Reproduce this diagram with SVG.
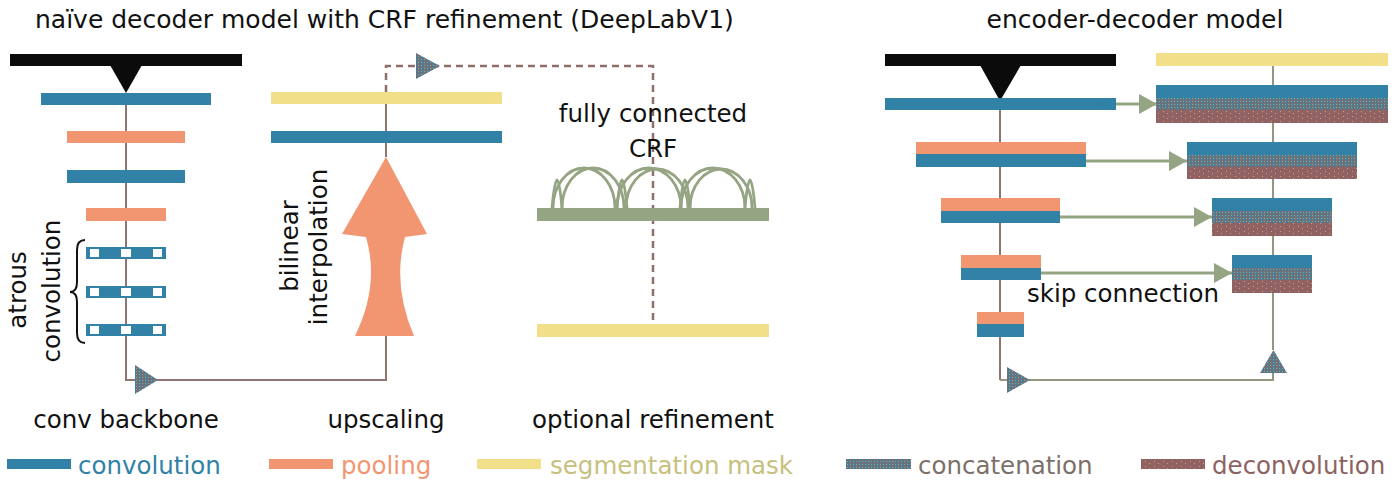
<svg xmlns="http://www.w3.org/2000/svg" width="1400" height="487" viewBox="0 0 1400 487">
<defs>
<pattern id="concat" width="3" height="3" patternUnits="userSpaceOnUse">
<rect width="3" height="3" fill="#5f7a86"/>
<rect x="0" y="0" width="1" height="1" fill="#3182a6"/>
<rect x="2" y="1" width="1" height="1" fill="#8f6363"/>
<rect x="1" y="2" width="1" height="1" fill="#95a584"/>
<rect x="1" y="0" width="1" height="1" fill="#8f6363"/>
<rect x="0" y="2" width="1" height="1" fill="#3182a6"/>
</pattern>
<pattern id="deconv" width="9" height="5" patternUnits="userSpaceOnUse">
<rect width="9" height="5" fill="#8f6363"/>
<rect x="2" y="1" width="1" height="1" fill="#e8906e"/>
<rect x="6" y="3" width="1" height="1" fill="#e8906e"/>
</pattern>
<marker id="skiphead" viewBox="0 0 18 20" refX="18" refY="10" markerWidth="18" markerHeight="20" markerUnits="userSpaceOnUse" orient="auto">
<path d="M0,0 L18,10 L0,20 Z" fill="#95a584"/>
</marker>
<style>
text{font-family:"DejaVu Sans","Liberation Sans",sans-serif;font-size:24.5px;fill:#111}
.h{font-size:25px}
.conv{fill:#3182a6}
.pool{fill:#f29672}
.seg{fill:#f2df8a}
.crf{fill:#95a584}
.cat{fill:url(#concat)}
.dec{fill:url(#deconv)}
.blk{fill:#0b0b0b}
.spine{fill:none;stroke:#8e7570;stroke-width:2}
.link{fill:none;stroke:#93977f;stroke-width:2}
.dash{fill:none;stroke:#8f7068;stroke-width:2.5;stroke-dasharray:7 5}
.skip{fill:none;stroke:#95a584;stroke-width:3;marker-end:url(#skiphead)}
.arc{fill:none;stroke:#95a584;stroke-width:2.8}
.mid{text-anchor:middle}
</style>
</defs>
<rect width="1400" height="487" fill="#fff"/>

<!-- headings -->
<text x="35" y="28" class="h">naïve decoder model with CRF refinement (DeepLabV1)</text>
<text x="1135" y="28" class="h mid">encoder-decoder model</text>

<!-- connectors -->
<g id="connectors">
<path class="spine" d="M126,93 V380 H386 V336"/>
<path class="spine" d="M386,157 V92"/>
<path class="dash" d="M386,92 V66 H653 V323"/>
<path class="spine" d="M1000,101 V380"/>
<path class="link" d="M1000,380 H1273 V373"/>
<path class="link" d="M1273,350 V66"/>
<path class="skip" d="M1116,104 H1157"/>
<path class="skip" d="M1086,161 H1187"/>
<path class="skip" d="M1060,217 H1212"/>
<path class="skip" d="M1041,273 H1232"/>
<polygon class="cat" points="135,365 135,394 158,380"/>
<polygon class="cat" points="416,53 416,79 440,66"/>
<polygon class="cat" points="1007,367 1007,393 1030,380"/>
<polygon class="cat" points="1260,373 1287,373 1273.5,350"/>
</g>

<!-- left: conv backbone -->
<g id="input-left">
<rect class="blk" x="10" y="54" width="232" height="12"/>
<polygon class="blk" points="110,65 142,65 126,93"/>
</g>
<g id="bb-conv1"><rect class="conv" x="41" y="93" width="170" height="12"/></g>
<g id="bb-pool1"><rect class="pool" x="67" y="131" width="118" height="12"/></g>
<g id="bb-conv2"><rect class="conv" x="67" y="170" width="118" height="13"/></g>
<g id="bb-pool2"><rect class="pool" x="86" y="208" width="80" height="13"/></g>
<g id="bb-atrous1">
<rect class="conv" x="86" y="247" width="80" height="12"/>
<rect x="90" y="249" width="9" height="8" fill="#fff"/><rect x="121" y="249" width="10" height="8" fill="#fff"/><rect x="153" y="249" width="9" height="8" fill="#fff"/>
</g>
<g id="bb-atrous2">
<rect class="conv" x="86" y="286" width="80" height="12"/>
<rect x="90" y="288" width="9" height="8" fill="#fff"/><rect x="121" y="288" width="10" height="8" fill="#fff"/><rect x="153" y="288" width="9" height="8" fill="#fff"/>
</g>
<g id="bb-atrous3">
<rect class="conv" x="86" y="324" width="80" height="12"/>
<rect x="90" y="326" width="9" height="8" fill="#fff"/><rect x="121" y="326" width="10" height="8" fill="#fff"/><rect x="153" y="326" width="9" height="8" fill="#fff"/>
</g>
<g id="atrous-label">
<path d="M85,240 Q77,240 77,250 V282 Q77,292 70,292 Q77,292 77,302 V333 Q77,343 85,343" fill="none" stroke="#111" stroke-width="2"/>
<text transform="translate(26,290) rotate(-90)" class="mid">atrous</text>
<text transform="translate(60,291) rotate(-90)" class="mid">convolution</text>
</g>
<text x="126" y="428" class="mid">conv backbone</text>

<!-- upscaling -->
<g id="up-arrow">
<path d="M386,157 L427,234 L405,237 Q392,285 414,336 L355,336 Q380,285 366,237 L342,234 Z" fill="#f29672"/>
</g>
<g id="up-conv"><rect class="conv" x="271" y="131" width="231" height="12"/></g>
<g id="up-seg"><rect class="seg" x="271" y="92" width="231" height="12"/></g>
<g id="up-label">
<text transform="translate(298,246) rotate(-90)" class="mid">bilinear</text>
<text transform="translate(327,247) rotate(-90)" class="mid">interpolation</text>
</g>
<text x="386" y="428" class="mid">upscaling</text>

<!-- CRF refinement -->
<g id="crf">
<text x="653" y="122" class="mid">fully connected</text>
<text x="653" y="157" class="mid">CRF</text>
<path class="arc" d="M553,208 A31,40 0 0 1 615,208"/>
<path class="arc" d="M562,208 A31,40 0 0 1 624,208"/>
<path class="arc" d="M617,208 A32,40 0 0 1 681,208"/>
<path class="arc" d="M626,208 A31,39 0 0 1 688,208"/>
<path class="arc" d="M681,208 A32,40 0 0 1 745,208"/>
<path class="arc" d="M690,208 A31,39 0 0 1 752,208"/>
<path class="arc" d="M552,208 Q557,152 562,208"/>
<path class="arc" d="M617,208 Q622,152 627,208"/>
<path class="arc" d="M680,208 Q685,152 690,208"/>
<path class="arc" d="M745,208 Q750,152 755,208"/>
<rect class="crf" x="537" y="208" width="232" height="13"/>
</g>
<g id="crf-seg"><rect class="seg" x="537" y="324" width="232" height="13"/></g>
<text x="653" y="428" class="mid">optional refinement</text>

<!-- encoder-decoder -->
<g id="input-right">
<rect class="blk" x="885" y="54" width="231" height="12"/>
<polygon class="blk" points="980,65 1021,65 1000,101"/>
</g>
<g id="enc1"><rect class="conv" x="885" y="98" width="231" height="12"/></g>
<g id="enc2"><rect class="pool" x="916" y="142" width="170" height="12"/><rect class="conv" x="916" y="154" width="170" height="13"/></g>
<g id="enc3"><rect class="pool" x="941" y="198" width="119" height="13"/><rect class="conv" x="941" y="211" width="119" height="12"/></g>
<g id="enc4"><rect class="pool" x="961" y="255" width="80" height="13"/><rect class="conv" x="961" y="268" width="80" height="12"/></g>
<g id="enc5"><rect class="pool" x="977" y="312" width="47" height="12"/><rect class="conv" x="977" y="324" width="47" height="13"/></g>
<g id="dec-seg"><rect class="seg" x="1156" y="53" width="232" height="13"/></g>
<g id="dec1"><rect class="conv" x="1156" y="85" width="232" height="13"/><rect class="cat" x="1156" y="98" width="232" height="12"/><rect class="dec" x="1156" y="110" width="232" height="13"/></g>
<g id="dec2"><rect class="conv" x="1187" y="142" width="170" height="13"/><rect class="cat" x="1187" y="155" width="170" height="12"/><rect class="dec" x="1187" y="167" width="170" height="12"/></g>
<g id="dec3"><rect class="conv" x="1212" y="198" width="120" height="13"/><rect class="cat" x="1212" y="211" width="120" height="12"/><rect class="dec" x="1212" y="223" width="120" height="13"/></g>
<g id="dec4"><rect class="conv" x="1232" y="255" width="80" height="13"/><rect class="cat" x="1232" y="268" width="80" height="12"/><rect class="dec" x="1232" y="280" width="80" height="13"/></g>
<text x="1027" y="302">skip connection</text>

<!-- legend -->
<g id="legend">
<rect class="conv" x="7" y="459" width="64" height="10"/>
<text x="78" y="474" style="fill:#3182a6">convolution</text>
<rect class="pool" x="269" y="459" width="64" height="10"/>
<text x="341" y="474" style="fill:#f29672">pooling</text>
<rect class="seg" x="477" y="459" width="64" height="10"/>
<text x="550" y="474" style="fill:#c7c07e">segmentation mask</text>
<rect class="cat" x="846" y="459" width="65" height="10"/>
<text x="918" y="474" style="fill:#7d6f69">concatenation</text>
<rect class="dec" x="1141" y="459" width="64" height="10"/>
<text x="1212" y="474" style="fill:#8d6262">deconvolution</text>
</g>
</svg>
